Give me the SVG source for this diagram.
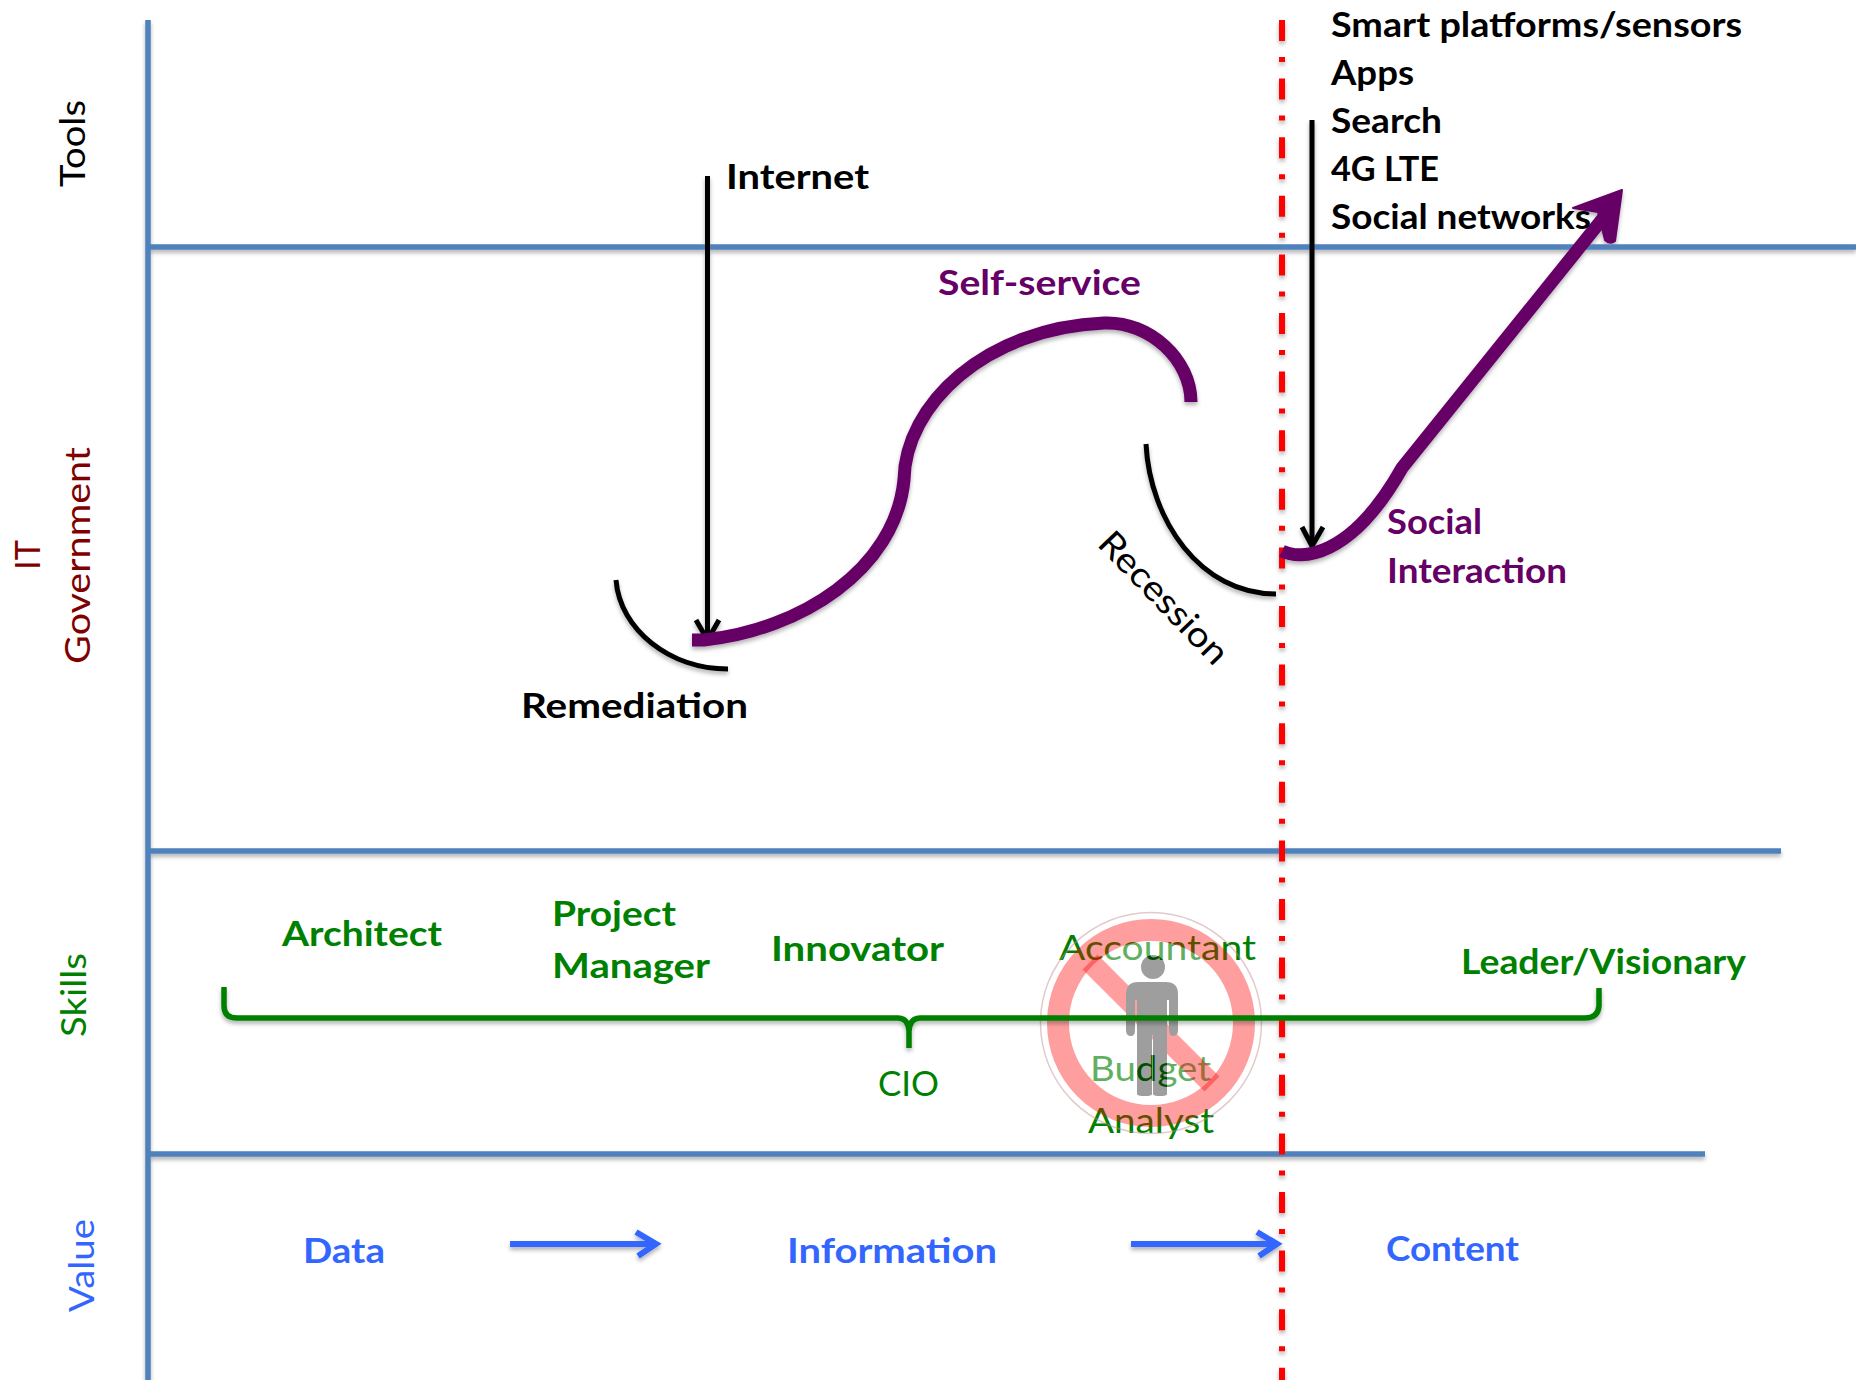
<svg xmlns="http://www.w3.org/2000/svg" xmlns:xlink="http://www.w3.org/1999/xlink" width="1856" height="1380" viewBox="0 0 1856 1380">
<style>
text{font-family:"Lato","Carlito","Liberation Sans",sans-serif;font-size:35px}
.b{font-weight:700}
.k{fill:#000}.p{fill:#660066}.g{fill:#008000}.u{fill:#3366ff}.r{fill:#7f0000}
.ax{stroke:#4f81bd;stroke-width:5.5;fill:none}
.bk{stroke:#000;fill:none;stroke-width:5}
.pu{stroke:#660066;fill:none;stroke-width:13}
.bl{stroke:#3366ff;stroke-width:6;fill:none}
</style>
<defs>
<filter id="sh" x="0" y="0" width="1856" height="1380" filterUnits="userSpaceOnUse" primitiveUnits="userSpaceOnUse"><feDropShadow dx="0" dy="3" stdDeviation="2" flood-color="#000" flood-opacity=".3"/></filter>
<path id="body" d="M1138 982H1166Q1178 982 1178 994V1030Q1178 1036 1173 1036Q1169 1036 1169 1030V1000H1167V1094Q1167 1096 1160 1096Q1153 1096 1153 1094V1035H1152V1094Q1152 1096 1145 1096Q1137 1096 1137 1094V1000H1135V1030Q1135 1036 1131 1036Q1126 1036 1126 1030V994Q1126 982 1138 982Z"/>
<mask id="nobody" maskUnits="userSpaceOnUse" x="1000" y="880" width="320" height="300">
<rect x="1000" y="880" width="320" height="300" fill="#fff"/>
<circle cx="1153" cy="967" r="12" fill="#000"/>
<use href="#body" fill="#000"/>
</mask>
</defs>
<rect width="1856" height="1380" fill="#fff"/>
<g id="axis-labels">
<text class="k" transform="translate(85 187) rotate(-90)" textLength="87" lengthAdjust="spacingAndGlyphs">Tools</text>
<text class="r" transform="translate(40 570) rotate(-90)" textLength="30" lengthAdjust="spacingAndGlyphs">IT</text>
<text class="r" transform="translate(90 664) rotate(-90)" textLength="217" lengthAdjust="spacingAndGlyphs">Government</text>
<text class="g" transform="translate(86 1037) rotate(-90)" textLength="84" lengthAdjust="spacingAndGlyphs">Skills</text>
<text class="u" transform="translate(94 1312) rotate(-90)" textLength="93" lengthAdjust="spacingAndGlyphs">Value</text>
</g>
<g id="roles">
<text class="g b" x="282" y="946" textLength="160" lengthAdjust="spacingAndGlyphs">Architect</text>
<text class="g b" x="552" y="926" textLength="124" lengthAdjust="spacingAndGlyphs">Project</text>
<text class="g b" x="552" y="978" textLength="158" lengthAdjust="spacingAndGlyphs">Manager</text>
<text class="g b" x="771" y="961" textLength="173" lengthAdjust="spacingAndGlyphs">Innovator</text>
<text class="g" x="878" y="1096" textLength="61" lengthAdjust="spacingAndGlyphs">CIO</text>
<text class="g" x="1059" y="960" textLength="197" lengthAdjust="spacingAndGlyphs">Accountant</text>
<text class="g" x="1090" y="1081" textLength="121" lengthAdjust="spacingAndGlyphs">Budget</text>
<text class="g" x="1088" y="1133" textLength="126" lengthAdjust="spacingAndGlyphs">Analyst</text>
<text class="g b" x="1461" y="974" textLength="285" lengthAdjust="spacingAndGlyphs">Leader/Visionary</text>
</g>
<g id="no-person">
<circle cx="1151" cy="1023" r="110.5" fill="none" stroke="#c08a8a" stroke-opacity=".45" stroke-width="1.5"/>
<circle cx="1151" cy="1023" r="82" fill="#fff" fill-opacity=".38" mask="url(#nobody)"/>
<circle cx="1151" cy="1023" r="93" fill="none" stroke="#f00" stroke-opacity=".38" stroke-width="22"/>
<line x1="1090" y1="962" x2="1212" y2="1084" stroke="#f00" stroke-opacity=".38" stroke-width="21" mask="url(#nobody)"/>
<g fill="#000" fill-opacity=".38">
<circle cx="1153" cy="967" r="12"/>
<use href="#body"/>
</g>
</g>
<g id="connectors" filter="url(#sh)">
<line class="ax" x1="148" y1="20" x2="148" y2="1380"/>
<line class="ax" x1="148" y1="247" x2="1856" y2="247"/>
<line class="ax" x1="148" y1="851" x2="1781" y2="851"/>
<line class="ax" x1="148" y1="1154" x2="1705" y2="1154"/>
<line x1="1282" y1="20" x2="1282" y2="1380" stroke="#f00" stroke-width="6" stroke-dasharray="21 16 5 16.6"/>
<path class="bk" d="M707.500 176V638"/>
<path class="bk" stroke-width="6" d="M696 620L707.500 640L719 620"/>
<path class="bk" d="M1312 120V545"/>
<path class="bk" stroke-width="6" d="M1302 527L1312 546L1323 527"/>
<path class="bk" d="M616 580C620 630 670 669 728 669"/>
<path class="bk" d="M1146 444C1150 520 1200 594 1276 594"/>
<path class="pu" d="M692 640H704C800 630 895 570 904 480C905 405 985 328 1104 323C1150 321 1191 360 1191 402"/>
<path class="pu" d="M1282 551C1300 560 1350 560 1402 468L1608 212"/>
<path fill="#660066" stroke="#660066" stroke-width="2" stroke-linejoin="round" d="M1622 190L1573 208L1598 212L1605 240Q1610 245 1615 241Z"/>
<path fill="none" stroke="#008000" stroke-width="5.500" d="M224 987V1006Q224 1018 237 1018H898Q908 1018 909 1031V1048M909 1031Q910 1018 920 1018H1585Q1598 1018 1599 1006V988"/>
<path class="bl" d="M510 1244H654M636 1232L656 1244L638 1256"/>
<path class="bl" d="M1131 1244H1275M1257 1232L1277 1244L1259 1256"/>
</g>
<g id="tools">
<text class="k b" x="1331" y="37" textLength="411" lengthAdjust="spacingAndGlyphs">Smart platforms/sensors</text>
<text class="k b" x="1331" y="85" textLength="83" lengthAdjust="spacingAndGlyphs">Apps</text>
<text class="k b" x="1331" y="133" textLength="111" lengthAdjust="spacingAndGlyphs">Search</text>
<text class="k b" x="1331" y="181" textLength="108" lengthAdjust="spacingAndGlyphs">4G LTE</text>
<text class="k b" x="1331" y="229" textLength="260" lengthAdjust="spacingAndGlyphs">Social networks</text>
<text class="k b" x="726" y="189" textLength="143" lengthAdjust="spacingAndGlyphs">Internet</text>
</g>
<g id="government">
<text class="p b" x="938" y="295" textLength="203" lengthAdjust="spacingAndGlyphs">Self-service</text>
<text class="k b" x="521" y="718" textLength="227" lengthAdjust="spacingAndGlyphs">Remediation</text>
<text class="k" transform="translate(1096 545) rotate(46)" textLength="170" lengthAdjust="spacingAndGlyphs">Recession</text>
<text class="p b" x="1387" y="534" textLength="95" lengthAdjust="spacingAndGlyphs">Social</text>
<text class="p b" x="1387" y="583" textLength="180" lengthAdjust="spacingAndGlyphs">Interaction</text>
</g>
<g id="value">
<text class="u b" x="303" y="1263" textLength="82" lengthAdjust="spacingAndGlyphs">Data</text>
<text class="u b" x="787" y="1263" textLength="210" lengthAdjust="spacingAndGlyphs">Information</text>
<text class="u b" x="1386" y="1261" textLength="133" lengthAdjust="spacingAndGlyphs">Content</text>
</g>
</svg>
